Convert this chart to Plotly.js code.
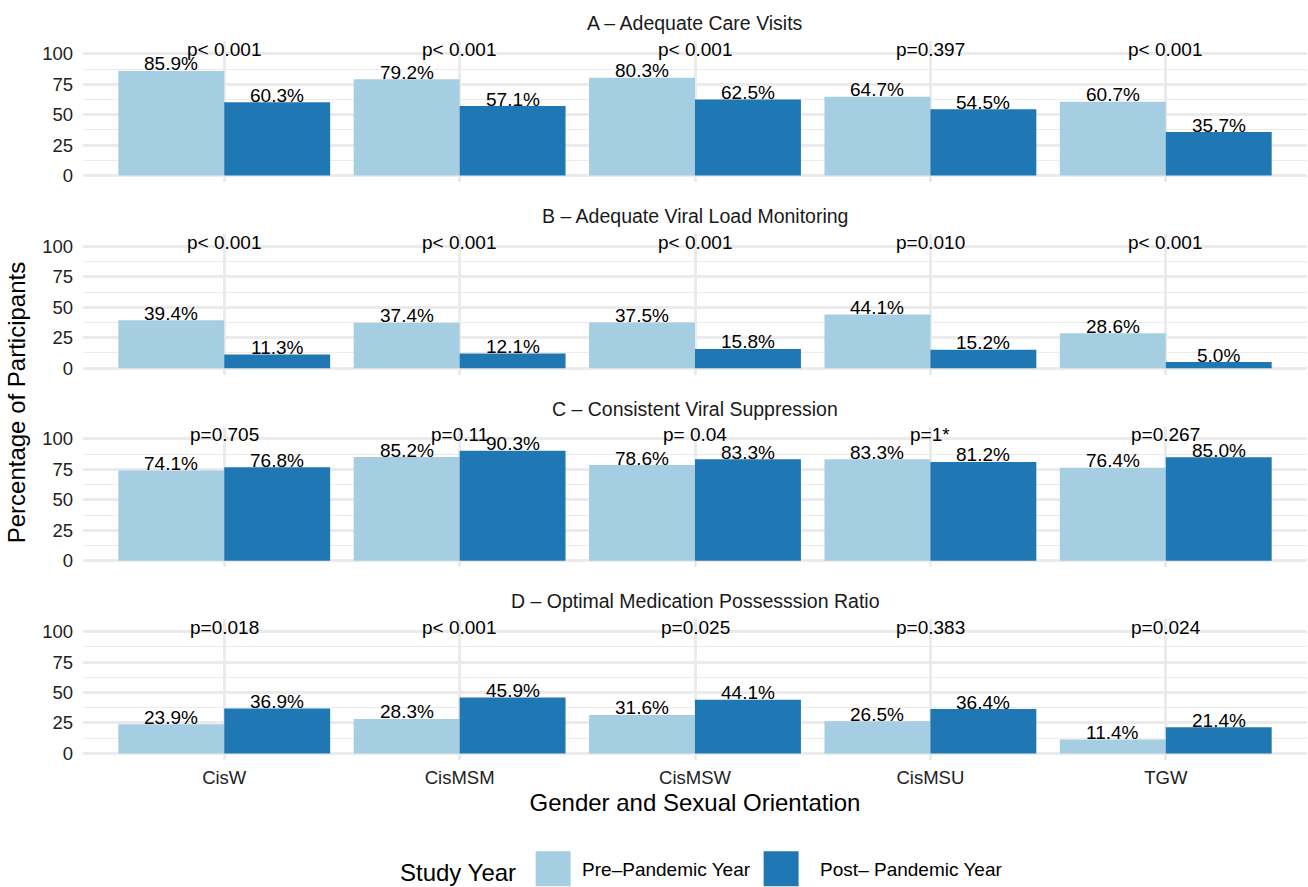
<!DOCTYPE html>
<html>
<head>
<meta charset="utf-8">
<script src="https://cdn.plot.ly/plotly-3.0.1.min.js"></script>
<style>
  html, body { margin: 0; padding: 0; background: #ffffff; }
  #chart { width: 1308px; height: 887px; }
</style>
</head>
<body>
<div id="chart"></div>
<script>
// ---------------- data ----------------
const categories = ["CisW", "CisMSM", "CisMSW", "CisMSU", "TGW"];
const panelTitles = [
  "A – Adequate Care Visits",
  "B – Adequate Viral Load Monitoring",
  "C – Consistent Viral Suppression",
  "D – Optimal Medication Possesssion Ratio"
];
const seriesNames = ["Pre–Pandemic Year", "Post– Pandemic Year"];

const preA  = [85.9, 79.2, 80.3, 64.7, 60.7];
const postA = [60.3, 57.1, 62.5, 54.5, 35.7];
const pA    = ["p< 0.001", "p< 0.001", "p< 0.001", "p=0.397", "p< 0.001"];

const preB  = [39.4, 37.4, 37.5, 44.1, 28.6];
const postB = [11.3, 12.1, 15.8, 15.2, 5.0];
const pB    = ["p< 0.001", "p< 0.001", "p< 0.001", "p=0.010", "p< 0.001"];

const preC  = [74.1, 85.2, 78.6, 83.3, 76.4];
const postC = [76.8, 90.3, 83.3, 81.2, 85.0];
const pC    = ["p=0.705", "p=0.11", "p= 0.04", "p=1*", "p=0.267"];

const preD  = [23.9, 28.3, 31.6, 26.5, 11.4];
const postD = [36.9, 45.9, 44.1, 36.4, 21.4];
const pD    = ["p=0.018", "p< 0.001", "p=0.025", "p=0.383", "p=0.024"];

const yTicks = [0, 25, 50, 75, 100];

// ---------------- styling ----------------
const preColor = "#A6CEE3";
const postColor = "#1F78B4";
const gridColor = "#EBEBEB";
const tickColor = "#222222";
const FONT = "Liberation Sans, Arial, Helvetica, sans-serif";

const W = 1308, H = 887;
const marginL = 83, marginR = 1;
const plotW = W - marginL - marginR;
const xRange = [-0.6, 4.6];
const yRange = [-5.25, 110.25];
const P_Y = 105;

const preSets = [preA, preB, preC, preD];
const postSets = [postA, postB, postC, postD];
const pSets = [pA, pB, pC, pD];

// panel pixel geometry
const zeroPx0 = 175.6, panelStep = 192.6, pxPerUnit = 1.218;
const unitPx = plotW / (xRange[1] - xRange[0]);
const halfBar = 0.225 * unitPx;

const traces = [];
const annotations = [];
const layout = {
  width: W, height: H,
  margin: { l: marginL, r: marginR, t: 0, b: 0, autoexpand: false },
  paper_bgcolor: "#ffffff",
  plot_bgcolor: "rgba(0,0,0,0)",
  font: { family: FONT, color: "#000000", size: 19 },
  barmode: "group",
  bargap: 0.1,
  bargroupgap: 0,
  showlegend: true,
  legend: {
    orientation: "h",
    xref: "container", yref: "container",
    x: 398 / W, xanchor: "left",
    y: 1 - 871 / H, yanchor: "middle",
    title: { text: "Study Year", side: "left", font: { size: 24, color: "#000000" } },
    font: { size: 19, color: "#000000" },
    itemwidth: 48,
    entrywidth: 165, entrywidthmode: "pixels",
    bgcolor: "rgba(0,0,0,0)",
    traceorder: "normal"
  },
  annotations: annotations
};

for (let k = 0; k < 4; k++) {
  const sfx = k === 0 ? "" : String(k + 1);
  const xa = "x" + sfx, ya = "y" + sfx;
  const zeroPx = zeroPx0 + panelStep * k;
  const topPx = zeroPx - (yRange[1]) * pxPerUnit;
  const botPx = zeroPx - (yRange[0]) * pxPerUnit;

  layout["xaxis" + sfx] = {
    type: "category",
    domain: [0, 1],
    anchor: ya,
    range: xRange,
    showgrid: true, gridcolor: gridColor, gridwidth: 2.8,
    zeroline: false, showline: false, ticks: "",
    showticklabels: k === 3,
    tickfont: { size: 18.5, color: tickColor },
    ticklabelstandoff: 5,
    automargin: false,
    fixedrange: true
  };
  if (k !== 0) layout["xaxis" + sfx].matches = "x";
  if (k === 3) {
    layout["xaxis" + sfx].title = {
      text: "Gender and Sexual Orientation",
      font: { size: 24, color: "#000000" },
      standoff: 6
    };
  }
  layout["yaxis" + sfx] = {
    domain: [1 - botPx / H, 1 - topPx / H],
    anchor: xa,
    range: yRange,
    tickmode: "array", tickvals: yTicks, ticktext: yTicks.map(String),
    showgrid: true, gridcolor: gridColor, gridwidth: 2.8,
    minor: { dtick: 12.5, tick0: 0, showgrid: true, gridcolor: gridColor, gridwidth: 1.4, ticks: "" },
    zeroline: false, showline: false, ticks: "",
    tickfont: { size: 18.5, color: tickColor },
    ticklabelstandoff: 9,
    automargin: false,
    fixedrange: true
  };

  traces.push({
    type: "bar", x: categories, y: preSets[k], name: seriesNames[0],
    xaxis: xa, yaxis: ya, marker: { color: preColor, line: { width: 0 } },
    legendgroup: "pre", showlegend: k === 0, hoverinfo: "x+y+name"
  });
  traces.push({
    type: "bar", x: categories, y: postSets[k], name: seriesNames[1],
    xaxis: xa, yaxis: ya, marker: { color: postColor, line: { width: 0 } },
    legendgroup: "post", showlegend: k === 0, hoverinfo: "x+y+name"
  });

  // value labels
  categories.forEach((c, i) => {
    [[preSets[k][i], -halfBar], [postSets[k][i], halfBar]].forEach(([v, sh]) => {
      annotations.push({
        x: c, y: v, xref: xa, yref: ya, text: v.toFixed(1) + "%",
        showarrow: false, xanchor: "center", yanchor: "middle",
        xshift: sh, yshift: 7,
        font: { size: 19, color: "#000000", family: FONT }
      });
    });
    annotations.push({
      x: c, y: P_Y, xref: xa, yref: ya, text: pSets[k][i],
      showarrow: false, xanchor: "center", yanchor: "middle", yshift: -2,
      font: { size: 19, color: "#000000", family: FONT }
    });
  });

  // panel strip title
  annotations.push({
    x: 0.5, xref: "paper", y: 1 - (23.5 + panelStep * k) / H, yref: "paper",
    text: panelTitles[k], showarrow: false, xanchor: "center", yanchor: "middle",
    font: { size: 19.5, color: "#1A1A1A", family: FONT }
  });
}

// shared y axis title
annotations.push({
  x: -0.0545, xref: "paper", y: 1 - 402 / H, yref: "paper",
  text: "Percentage of Participants", textangle: -90, showarrow: false,
  xanchor: "center", yanchor: "middle",
  font: { size: 24, color: "#000000", family: FONT }
});

Plotly.newPlot("chart", traces, layout, { displayModeBar: false }).then(function (gd) {
  // enlarge legend keys to ggplot-like square keys
  gd.querySelectorAll(".legend .legendpoints path").forEach(function (p) {
    p.setAttribute("d", "M17.5,17.5H-17.5V-17.5H17.5Z");
  });
  // let the last legend label show in full
  gd.querySelectorAll(".legend [clip-path]").forEach(function (el) {
    el.removeAttribute("clip-path");
  });
  const texts = gd.querySelectorAll(".legend .traces .legendtext");
  if (texts.length > 1) {
    const t = texts[1];
    t.setAttribute("x", String(parseFloat(t.getAttribute("x") || "0") + 10));
  }
});
</script>
</body>
</html>
